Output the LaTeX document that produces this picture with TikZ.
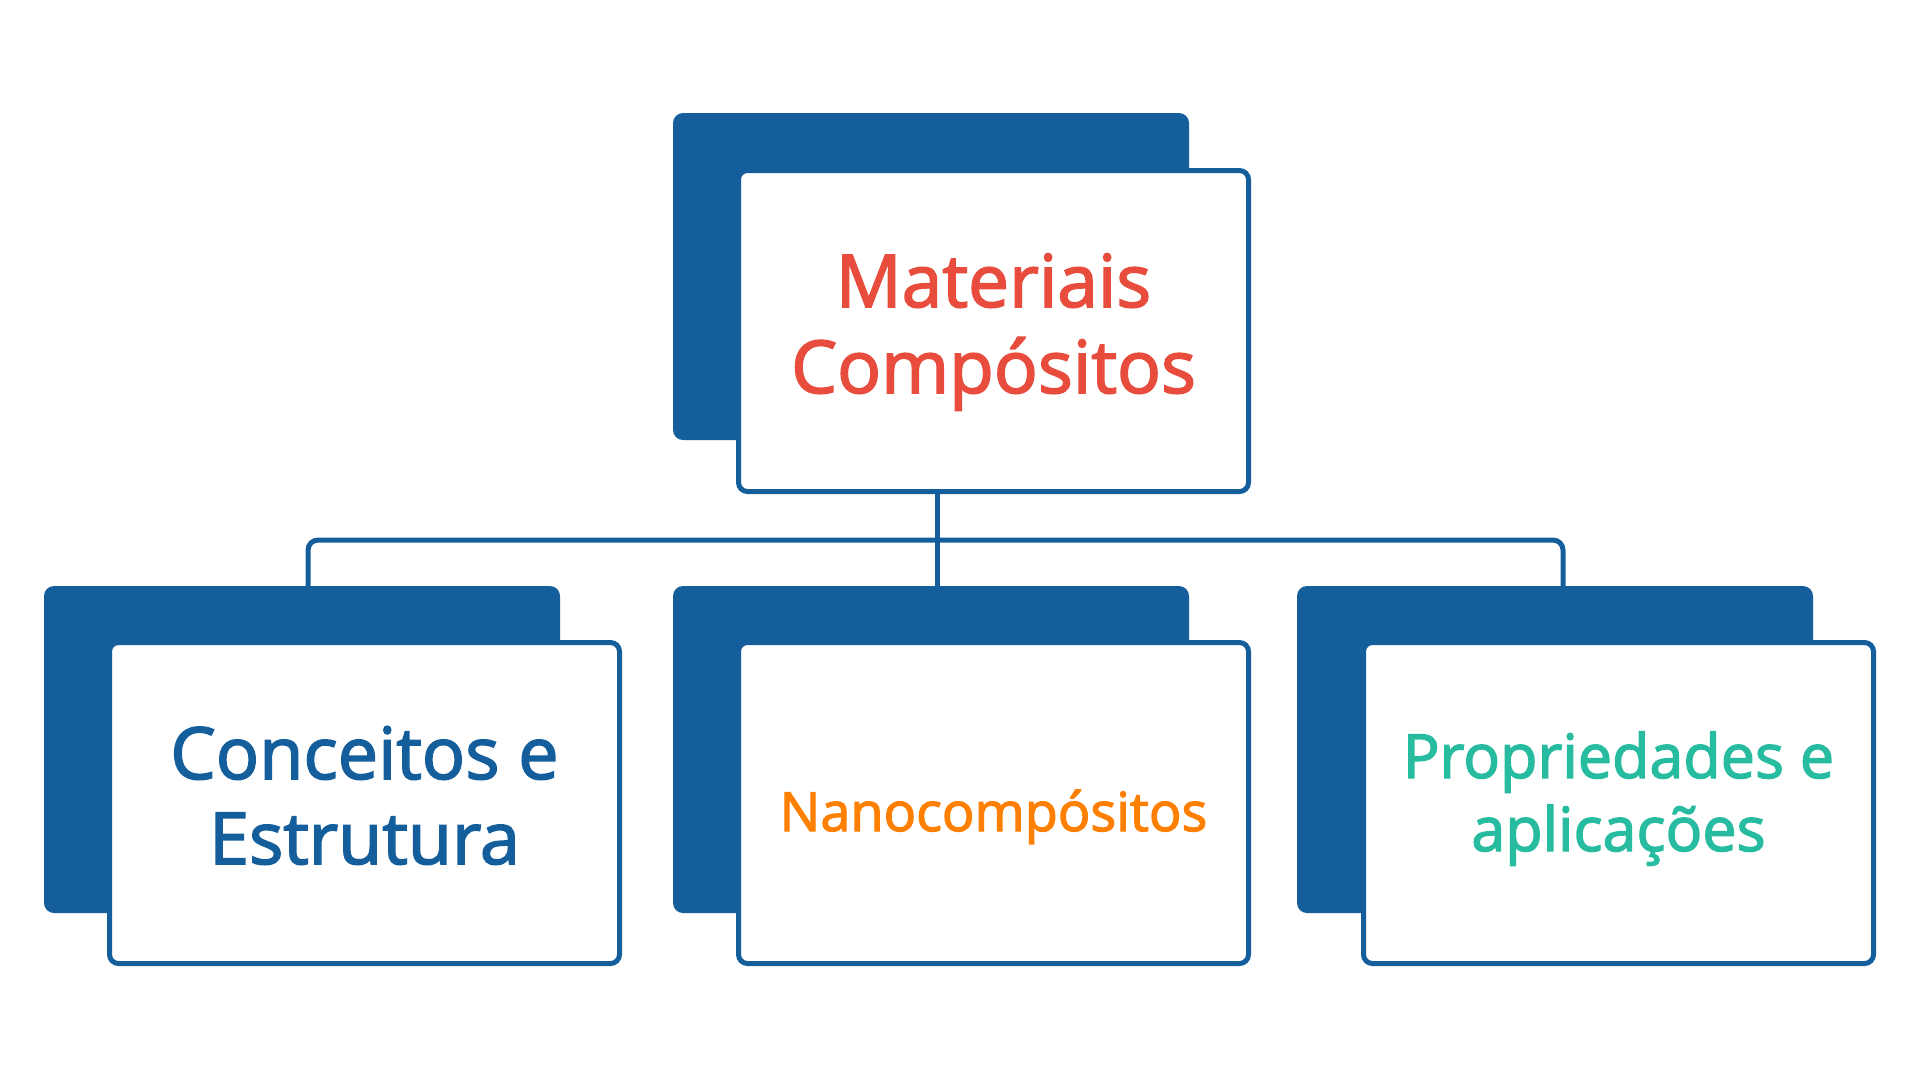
\documentclass[tikz,border=0pt]{standalone}
\usepackage{fontspec}
\setmainfont{Open Sans}[FakeBold=2.2,AutoFakeBold=2.2]
\definecolor{dblue}{HTML}{155E9C}
\definecolor{tred}{HTML}{E84C3D}
\definecolor{torange}{HTML}{FF7F00}
\definecolor{tteal}{HTML}{27BC9F}
\begin{document}
\begin{tikzpicture}[x=1pt,y=-1pt,
  back/.style={fill=dblue, rounded corners=10pt, inner sep=0pt, outer sep=0pt,
    minimum width=516pt, minimum height=327pt, anchor=north west},
  front/.style={draw=dblue, line width=5pt, fill=white, rounded corners=9pt,
    inner sep=0pt, outer sep=0pt, minimum width=510pt, minimum height=321pt, anchor=north west},
  link/.style={draw=dblue, line width=5pt, rounded corners=10pt},
  lbl/.style={align=center, anchor=base, inner sep=0pt}]
\useasboundingbox (0,0) rectangle (1920,1080);
\coordinate (hl) at (308,540);
\coordinate (hr) at (1563,540);
\coordinate (mv) at (937,540);
% top box
\node[back] (t0) at (673,113) {};
\node[front] (tw) at (738.5,170.5) {};
% bottom boxes
\node[back] (l0) at (44,586) {};
\node[back] (m0) at (673,586) {};
\node[back] (r0) at (1297,586) {};
% connectors
\draw[link] (l0.north -| hl) |- (hr) -- (r0.north -| hr);
\draw[link] (tw.south -| mv) -- (m0.north -| mv);
\node[front] (lw) at (109.5,642.5) {};
\node[front] (mw) at (738.5,642.5) {};
\node[front] (rw) at (1363.5,642.5) {};
% labels
\node[lbl, text=tred, font=\fontsize{73}{86}\selectfont\bfseries] (tt) at (993.5,393) {Materiais\\Compósitos};
\node[lbl, text=dblue, font=\fontsize{72}{85}\selectfont\bfseries] (lt) at (364.5,864) {Conceitos e\\Estrutura};
\node[lbl, text=torange, font=\fontsize{54}{64}\selectfont\bfseries] (mt) at (993.5,831) {Nanocompósitos};
\node[lbl, text=tteal, font=\fontsize{61}{73}\selectfont\bfseries] (rt) at (1618.5,851) {Propriedades e\\aplicações};
\end{tikzpicture}
\end{document}
